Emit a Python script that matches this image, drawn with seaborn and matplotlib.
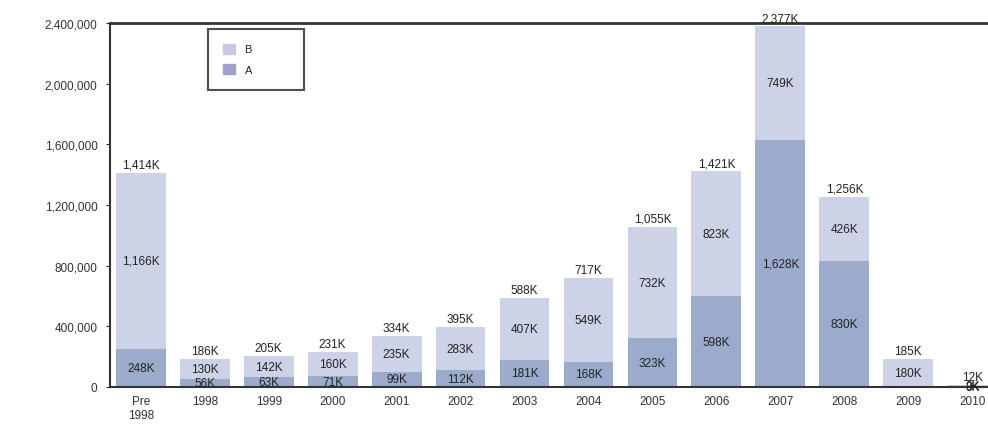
import matplotlib
matplotlib.use("Agg")
import matplotlib.pyplot as plt
import matplotlib.patches as mpatches
import pandas as pd
import seaborn as sns

# Datos (miles)
categories = ["Pre\n1998", "1998", "1999", "2000", "2001", "2002", "2003",
              "2004", "2005", "2006", "2007", "2008", "2009", "2010"]
a_values = [248, 56, 63, 71, 99, 112, 181, 168, 323, 598, 1628, 830, 5, 3]
b_values = [1166, 130, 142, 160, 235, 283, 407, 549, 732, 823, 749, 426, 180, 9]

color_b = "#cdd3e6"
color_a = "#9babcb"

df = pd.DataFrame({"cat": categories,
                   "A": [v * 1000 for v in a_values],
                   "B": [v * 1000 for v in b_values]})
df["total"] = df["A"] + df["B"]


def fmt_k(v):
    return f"{v:,}K"


sns.set_style("white")
plt.rcParams["font.family"] = ["Liberation Sans", "DejaVu Sans"]
fs = 8.5

fig = plt.figure(figsize=(9.88, 4.27), dpi=100)
ax = fig.add_axes([110 / 988, 39 / 427, 1 - 110 / 988 + 0.01, 364 / 427])

# barras apiladas: total (color B) y encima A
sns.barplot(data=df, x="cat", y="total", order=categories, color=color_b,
            width=0.78, saturation=1, ax=ax, edgecolor="none")
sns.barplot(data=df, x="cat", y="A", order=categories, color=color_a,
            width=0.78, saturation=1, ax=ax, edgecolor="none")

# etiquetas de valores
for i, row in df.iterrows():
    a_k = a_values[i]
    b_k = b_values[i]
    tot_k = a_k + b_k
    ax.text(i, row["total"] + 15000, fmt_k(tot_k), ha="center", va="bottom",
            fontsize=fs, color="#222222")
    ax.text(i, row["A"] + row["B"] / 2, fmt_k(b_k), ha="center", va="center",
            fontsize=fs, color="#222222")
    if a_k / tot_k > 0.05:
        ax.text(i, row["A"] / 2, fmt_k(a_k), ha="center", va="center",
                fontsize=fs, color="#222222")

ax.set_ylim(0, 2400000)
ax.set_xlim(-0.48, 13.4)
ax.set_yticks(range(0, 2400001, 400000))
ax.set_yticklabels([f"{v:,}" for v in range(0, 2400001, 400000)],
                   fontsize=fs, color="#333333")
ax.tick_params(axis="x", labelsize=fs, colors="#333333", length=0, pad=6)
ax.tick_params(axis="y", length=3, left=True, pad=6)
ax.set_xlabel("")
ax.set_ylabel("")

ax.spines["right"].set_visible(False)
ax.spines["top"].set_linewidth(2)
ax.spines["top"].set_color("#333333")
ax.spines["left"].set_color("#333333")
ax.spines["bottom"].set_color("#333333")
ax.spines["left"].set_linewidth(1.5)
ax.spines["bottom"].set_linewidth(1.5)

handles = [mpatches.Patch(color="#c8c8e6", label="B"),
           mpatches.Patch(color="#a0a0cc", label="A")]
leg = ax.legend(handles=handles, loc="upper left",
                bbox_to_anchor=(97 / 878, 0.983), fontsize=8,
                frameon=True, fancybox=False, handlelength=1.1,
                handleheight=1.0, borderpad=1.3, labelspacing=0.9,
                handletextpad=0.9, borderaxespad=0)
leg.get_frame().set_edgecolor("#222222")
leg.get_frame().set_linewidth(1.5)
# ensanchar el recuadro de la leyenda
for t in leg.get_texts():
    t.set_text(t.get_text() + "            ")

fig.savefig("out.png", dpi=100)
